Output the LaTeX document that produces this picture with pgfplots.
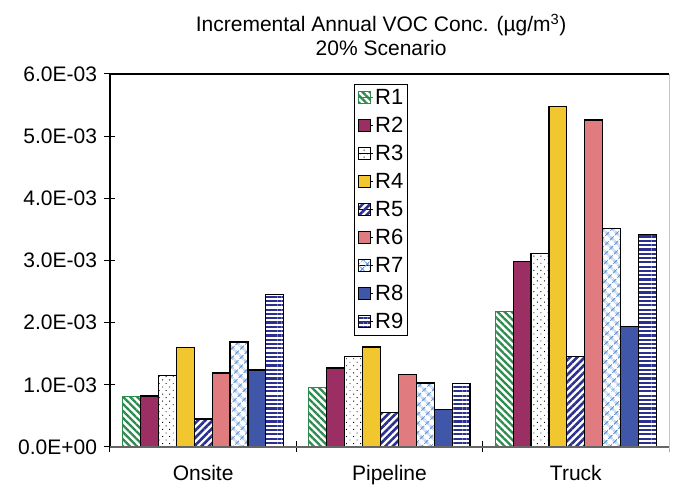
\documentclass[border=0pt]{standalone}
\usepackage{pgfplots}
\pgfplotsset{compat=1.18}
\usepackage{fontspec}
\setmainfont{Liberation Sans}
\usetikzlibrary{patterns.meta}
\definecolor{cgreen}{HTML}{2E8B4E}
\definecolor{cmaroon}{HTML}{9B2F63}
\definecolor{cyellow}{HTML}{F2C62E}
\definecolor{cnavy}{HTML}{2B2F8F}
\definecolor{cpink}{HTML}{E07B80}
\definecolor{clblue}{HTML}{5F93D8}
\definecolor{cblue}{HTML}{4056A8}
\begin{document}
\begin{tikzpicture}
\useasboundingbox (-110pt,-39pt) rectangle (567pt,447pt);
\begin{axis}[
  at={(0,0)}, anchor=south west,
  scale only axis, width=559pt, height=373pt,
  clip=false,
  ybar=0pt, bar width=17.9pt,
  xmin=-0.5, xmax=2.5, ymin=0, ymax=0.006,
  xtick={0,1,2}, xticklabels={Onsite,Pipeline,Truck},
  major x tick style={draw=none},
  minor xtick={-0.5,0.5,1.5},
  xtick pos=bottom, ytick pos=left,
  ytick={0,0.001,0.002,0.003,0.004,0.005,0.006},
  yticklabels={0.0E+00,1.0E-03,2.0E-03,3.0E-03,4.0E-03,5.0E-03,6.0E-03},
  scaled y ticks=false,
  tick align=center, major tick length=11pt, minor tick length=11pt,
  tick style={black, line width=1pt},
  axis line style={draw=none},
  tick label style={font=\fontsize{21}{24}\selectfont},
  yticklabel style={xshift=-4pt},
  xticklabel style={yshift=-9pt},
  legend style={at={(0.4365,0.973)}, anchor=north west, draw=black, line width=1pt,
    font=\fontsize{22}{24}\selectfont, row sep=7.2pt, inner ysep=3pt,
    nodes={inner xsep=1.5pt}},
  legend cell align=left,
  lg/.style={legend image code/.code={\path (0pt,0pt) -- (15pt,0pt);\draw[##1, line width=0.8pt] (0pt,-6pt) rectangle (12pt,6pt);}},
]
\addplot[draw=cgreen, line width=1pt, pattern={Lines[angle=-45,distance=5pt,line width=2.3pt]}, pattern color=cgreen, lg]
  coordinates {(0,0.00082) (1,0.00095) (2,0.00218)};
\addplot[draw=black, line width=1.2pt, fill=cmaroon, lg]
  coordinates {(0,0.00082) (1,0.00127) (2,0.00298)};
\addplot[draw=black, line width=1.2pt, pattern={Dots[radius=0.65pt,distance=5pt,angle=45]}, pattern color=black, lg]
  coordinates {(0,0.00115) (1,0.00145) (2,0.00311)};
\addplot[draw=black, line width=1.2pt, fill=cyellow, lg]
  coordinates {(0,0.0016) (1,0.00161) (2,0.00548)};
\addplot[draw=black, line width=1.2pt, pattern={Lines[angle=45,distance=5.2pt,line width=2.6pt]}, pattern color=cnavy, lg]
  coordinates {(0,0.00045) (1,0.00056) (2,0.00145)};
\addplot[draw=black, line width=1.2pt, fill=cpink, lg]
  coordinates {(0,0.00119) (1,0.00116) (2,0.00526)};
\addplot[draw=black, line width=1.2pt, pattern={Hatch[angle=45,distance=6.4pt,line width=1.1pt]}, pattern color=clblue, lg]
  coordinates {(0,0.00169) (1,0.00103) (2,0.00352)};
\addplot[draw=black, line width=1.2pt, fill=cblue, lg]
  coordinates {(0,0.00124) (1,0.0006) (2,0.00194)};
\addplot[draw=black, line width=1.2pt, pattern={Lines[angle=0,distance=4.3pt,line width=2.2pt]}, pattern color=cnavy, lg]
  coordinates {(0,0.00245) (1,0.00102) (2,0.00342)};
\legend{R1,R2,R3,R4,R5,R6,R7,R8,R9}
\draw[black, line width=1.3pt] (rel axis cs:0,0) -- (rel axis cs:0,1) -- (rel axis cs:1,1);
\draw[black!60, line width=1.3pt] (rel axis cs:0,0) -- (rel axis cs:1,0);
\draw[black!35, line width=1pt] (rel axis cs:1,1) -- (rel axis cs:1,0) -- ([yshift=-5.5pt]rel axis cs:1,0);
\node[align=center, font=\fontsize{21}{24}\selectfont] at ([yshift=39pt]rel axis cs:0.485,1)
  {Incremental Annual VOC Conc. (µg/m\textsuperscript{3})\\20\% Scenario};
\end{axis}
\end{tikzpicture}
\end{document}
